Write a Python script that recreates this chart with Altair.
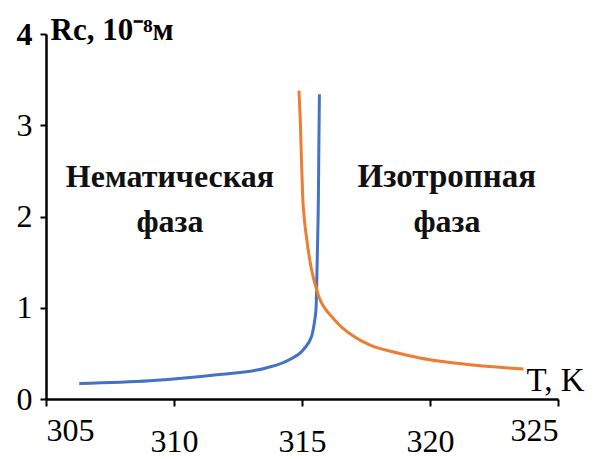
import altair as alt
import pandas as pd

# Nematic phase (blue)
nem_T = [306.3, 309.06, 311.67, 313.6, 314.5, 315.05, 315.38, 315.45, 315.5, 315.55, 315.57, 315.6, 315.64, 315.66, 315.68]
nem_R = [0.17, 0.20, 0.265, 0.34, 0.43, 0.54, 0.69, 0.78, 0.87, 1.0, 1.2, 1.6, 2.2, 2.8, 3.34]

# Isotropic phase (orange)
iso_T = [314.88, 314.94, 314.98, 315.03, 315.1, 315.18, 315.35, 315.57, 315.7, 315.9, 316.2, 316.5, 317.0, 317.66, 318.5, 319.6, 320.5, 321.56, 322.6, 323.65]
iso_R = [3.38, 3.0, 2.6, 2.2, 1.95, 1.76, 1.45, 1.2, 1.09, 0.99, 0.89, 0.80, 0.69, 0.59, 0.52, 0.45, 0.41, 0.376, 0.35, 0.33]

x_ticks = [305, 310, 315, 320, 325]
y_ticks = [0, 1, 2, 3, 4]

ann_text = ["Нематическая", "фаза", "Изотропная", "фаза"]
ann_T = [309.84, 309.84, 320.66, 320.66]
ann_R = [2.43, 1.94, 2.43, 1.94]
ann_size = [32, 32, 33, 32]

FONT = "Liberation Serif"

df = pd.concat([
    pd.DataFrame({"T": nem_T, "R": nem_R, "phase": "nem", "o": range(len(nem_T))}),
    pd.DataFrame({"T": iso_T, "R": iso_R, "phase": "iso", "o": range(len(iso_T))}),
])

xs = alt.Scale(domain=[305, 325], nice=False, zero=False)
ys = alt.Scale(domain=[0, 4], nice=False)

lines = alt.Chart(df).mark_line(strokeWidth=3, interpolate="monotone").encode(
    x=alt.X("T:Q", scale=xs, axis=alt.Axis(
        values=x_ticks, title="T, K", grid=False, format="d",
        domainColor="black", domainWidth=2.5, tickColor="black", tickWidth=2, tickSize=7,
        labelFont=FONT, labelFontSize=32, labelColor="black",
        labelPadding={"condition": {"test": "datum.value == 305 || datum.value == 325", "value": 9}, "value": 20},
        titleFont=FONT, titleFontSize=33, titleFontWeight="normal", titleColor="black",
        titleX=480, titleY=-9, titleAlign="left", titleBaseline="alphabetic", titleAngle=0,
    )),
    y=alt.Y("R:Q", scale=ys, axis=alt.Axis(
        values=y_ticks, title="Rc, 10⁻⁸м", grid=False, format="d",
        domainColor="black", domainWidth=2.5, tickColor="black", tickWidth=2, tickSize=6,
        labelFont=FONT, labelFontSize=32, labelColor="black", labelPadding=8,
        labelFontWeight={"condition": {"test": "datum.value == 4", "value": "bold"}, "value": "normal"},
        titleFont=FONT, titleFontSize=31, titleFontWeight="bold", titleColor="black",
        titleX=4, titleY=5, titleAlign="left", titleBaseline="alphabetic", titleAngle=0,
    )),
    color=alt.Color("phase:N", scale=alt.Scale(domain=["nem", "iso"], range=["#4472C4", "#ED7D31"]), legend=None),
    order="o:Q",
    detail="phase:N",
)

ann_df = pd.DataFrame({"text": ann_text, "T": ann_T, "R": ann_R, "size": ann_size})
ann = alt.Chart(ann_df).mark_text(font=FONT, fontWeight="bold", color="#111", baseline="middle", align="center").encode(
    x=alt.X("T:Q", scale=xs),
    y=alt.Y("R:Q", scale=ys),
    text="text:N",
    size=alt.Size("size:Q", scale=None, legend=None),
)

chart = alt.layer(lines, ann).properties(
    width=512, height=365,
    autosize=alt.AutoSizeParams(type="none"),
    padding={"left": 46, "top": 34, "right": 48, "bottom": 60},
    background="white",
).configure_view(stroke=None)

chart.save("out.html", embed_options={"renderer": "svg", "actions": False})
